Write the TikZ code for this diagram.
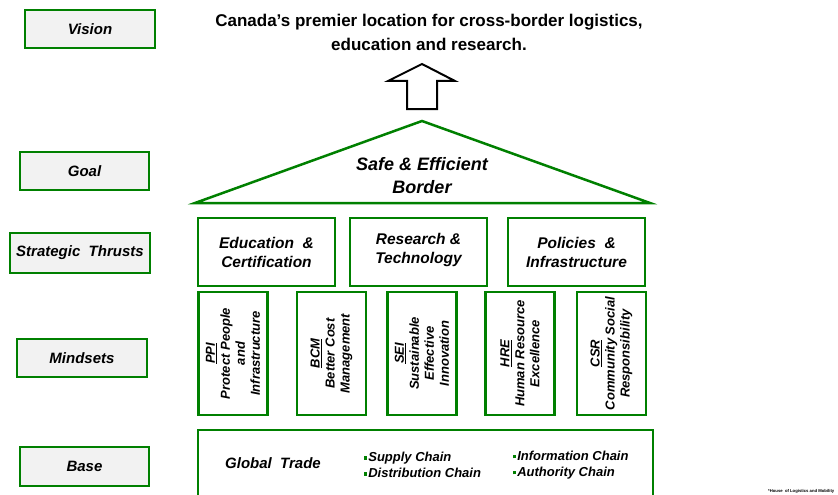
\documentclass[tikz,border=0pt]{standalone}
\usepackage{fontspec}
\setmainfont{Liberation Sans}
\definecolor{hgreen}{RGB}{0,128,0}
\def\fs#1#2{\fontsize{#1}{#2}\selectfont\bfseries\itshape}
\def\sq{\raisebox{2pt}{\textcolor{hgreen}{\rule{3.8pt}{3.8pt}}}\hspace{1pt}}
\tikzset{
  gline/.style={line width=2.5pt,draw=hgreen},
  levelbox/.style={gline,fill=black!5,inner sep=0pt,font=\fs{15}{18}},
  thrustbox/.style={gline,minimum width=137pt,minimum height=68pt,
    align=center,inner sep=0pt,font=\fs{15.5}{19}},
  mindbox/.style={gline,rotate=90,minimum width=123pt,minimum height=69pt,
    align=center,inner sep=0pt,font=\fs{13}{15}},
}

\begin{document}
\begin{tikzpicture}[x=1pt,y=-1pt]
  \clip (0,0) rectangle (838,495);
  % level labels on the left
  \node[levelbox,minimum width=130pt,minimum height=38pt] (vision)   at (90,29)    {Vision};
  \node[levelbox,minimum width=129pt,minimum height=38pt] (goal)     at (84.5,171) {Goal};
  \node[levelbox,minimum width=140pt,minimum height=40pt] (thrusts)  at (80,253)   {Strategic\ \ Thrusts};
  \node[levelbox,minimum width=130pt,minimum height=38pt] (mindsets) at (82,358)   {Mindsets};
  \node[levelbox,minimum width=129pt,minimum height=39pt] (base)     at (84.5,466.5) {Base};

  % vision statement and arrow
  \node[font=\fontsize{17}{24}\selectfont\bfseries,align=center] (statement) at (429,32)
    {Canada’s premier location for cross-border logistics,\\education and research.};
  \draw[line width=2pt,line join=miter] (407,109) -- (407,81) -- (388,81) -- (422,64)
    -- (455,81) -- (437,81) -- (437,109) -- cycle;

  % roof
  \draw[gline,line join=miter] (195,203) -- (422,121) -- (650,203) -- cycle;
  \node[font=\fs{18}{23},align=center] (roof) at (422,176) {Safe \& Efficient\\Border};

  % strategic thrusts
  \node[thrustbox] (educ) at (266.5,252) {Education \ \&\\Certification};
  \node[thrustbox] (rsch) at (418.5,252) {Research \&\\Technology\\[-11pt]};
  \node[thrustbox] (poli) at (576.5,252) {Policies \ \&\\Infrastructure};

  % mindsets
  \node[mindbox] (ppi) at (233,353.5)   {\underline{PPI}\\Protect People\\and\\Infrastructure};
  \node[mindbox] (bcm) at (331.5,353.5) {\underline{BCM}\\Better Cost\\Management};
  \node[mindbox] (sei) at (422,353.5)   {\underline{SEI}\\Sustainable\\Effective\\Innovation};
  \node[mindbox] (hre) at (520,353.5)   {\underline{HRE}\\Human Resource\\Excellence};
  \node[mindbox] (csr) at (611.5,353.5) {\underline{CSR}\\Community Social\\Responsibility};

  % base
  \draw[gline] (198,430) rectangle (653,510);
  \node[font=\fs{15}{18}] (trade) at (273,463) {Global\ \ Trade};
  \node[font=\fs{13}{16},align=left,anchor=west] (chains1) at (360,465)
    {\sq Supply Chain\\\sq Distribution Chain};
  \node[font=\fs{13}{16},align=left,anchor=west] (chains2) at (509,465)
    {\sq Information Chain\\\sq Authority Chain};

  \node[font=\fontsize{4.2}{5}\selectfont\bfseries,anchor=west,inner sep=0pt] (note) at (768,491)
    {*House\ \ of Logistics and Mobility};
\end{tikzpicture}
\end{document}
